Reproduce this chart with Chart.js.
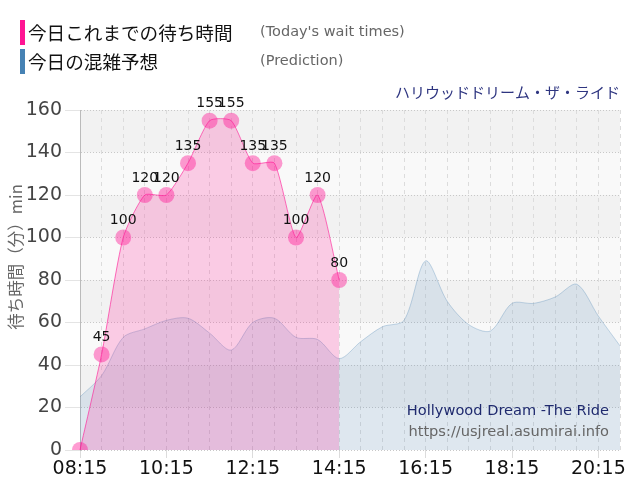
<!DOCTYPE html>
<html>
<head>
<meta charset="utf-8">
<script src="https://cdn.jsdelivr.net/npm/chart.js@4/dist/chart.umd.min.js"></script>
<style>
  html, body { margin: 0; padding: 0; background: #fff; }
  #wrap { width: 640px; height: 500px; }
</style>
</head>
<body>
<div id="wrap"><canvas id="waitChart" width="640" height="500"></canvas></div>
<script>
// 30 minute slots, 08:15 - 20:45
const timeLabels = [
  "08:15", "08:45", "09:15", "09:45", "10:15", "10:45", "11:15", "11:45",
  "12:15", "12:45", "13:15", "13:45", "14:15", "14:45", "15:15", "15:45",
  "16:15", "16:45", "17:15", "17:45", "18:15", "18:45", "19:15", "19:45",
  "20:15", "20:45"
]

// Today's wait times (posted so far)
const todayWait = [0, 45, 100, 120, 120, 135, 155, 155, 135, 135, 100, 120, 80,
  null, null, null, null, null, null, null, null, null, null, null, null, null]

// Prediction
const predicted = [25, 35, 53, 57, 61, 62, 55, 47, 60, 62, 53, 52, 43,
  51, 58, 61, 89, 70, 59, 56, 69, 69, 72, 78, 63, 49]

const yTicks = [0, 20, 40, 60, 80, 100, 120, 140, 160]

const JP_FONT = "'Noto Sans CJK JP', 'Noto Sans', sans-serif"
const EN_FONT = "'DejaVu Sans', Verdana, sans-serif"

Chart.defaults.font.family = EN_FONT

// alternating grey bands behind the plot
const bandPlugin = {
  id: "bands",
  beforeDraw(chart) {
    const { ctx, chartArea, scales } = chart
    const y = scales.y
    ctx.save()
    for (let i = 0; i < yTicks.length - 1; i++) {
      const top = y.getPixelForValue(yTicks[i + 1])
      const bottom = y.getPixelForValue(yTicks[i])
      ctx.fillStyle = i % 2 === 1 ? "#f2f2f2" : "#f9f9f9"
      ctx.fillRect(chartArea.left, top, chartArea.right - chartArea.left, bottom - top)
    }
    ctx.restore()
  }
}

// value labels above today's points (no label for the opening 0)
const valueLabelPlugin = {
  id: "valueLabels",
  afterDatasetsDraw(chart) {
    const { ctx } = chart
    const meta = chart.getDatasetMeta(0)
    ctx.save()
    ctx.font = "14px " + EN_FONT
    ctx.fillStyle = "#111"
    ctx.textAlign = "center"
    ctx.textBaseline = "middle"
    meta.data.forEach((pt, i) => {
      const v = todayWait[i]
      if (!v) return
      ctx.fillText(String(v), pt.x, pt.y - 17)
    })
    ctx.restore()
  }
}

// legend, axis title, ride name and credit texts
const textPlugin = {
  id: "texts",
  afterDraw(chart) {
    const { ctx } = chart
    ctx.save()
    ctx.textBaseline = "middle"

    ctx.fillStyle = "#ff1493"
    ctx.fillRect(20, 20, 5, 25)
    ctx.fillStyle = "#4682b4"
    ctx.fillRect(20, 49, 5, 25)

    ctx.textAlign = "left"
    ctx.fillStyle = "#111"
    ctx.font = "18.6px " + JP_FONT
    ctx.fillText("今日これまでの待ち時間", 28, 33)
    ctx.fillText("今日の混雑予想", 28, 62)

    ctx.fillStyle = "#666"
    ctx.font = "14.5px " + EN_FONT
    ctx.fillText("(Today's wait times)", 260, 32)
    ctx.fillText("(Prediction)", 260, 61)

    ctx.textAlign = "right"
    ctx.fillStyle = "#2e3580"
    ctx.font = "15px " + JP_FONT
    ctx.fillText("ハリウッドドリーム・ザ・ライド", 620, 92)

    ctx.fillStyle = "#1f2a6e"
    ctx.font = "14.6px " + EN_FONT
    ctx.fillText("Hollywood Dream -The Ride", 609, 411)
    ctx.fillStyle = "#666"
    ctx.fillText("https://usjreal.asumirai.info", 609, 432)

    // y axis title
    ctx.translate(16, 257)
    ctx.rotate(-Math.PI / 2)
    ctx.textAlign = "center"
    ctx.fillStyle = "#666"
    ctx.font = "16.5px " + JP_FONT
    ctx.fillText("待ち時間（分）min", 0, 0)
    ctx.restore()
  }
}

const ctx = document.getElementById("waitChart")
new Chart(ctx, {
  type: "line",
  data: {
    labels: timeLabels,
    datasets: [
      {
        label: "今日これまでの待ち時間",
        data: todayWait,
        borderColor: "rgba(255,20,147,0.6)",
        borderWidth: 1,
        backgroundColor: "rgba(255,20,147,0.2)",
        fill: "origin",
        tension: 0.2,
        pointRadius: 8,
        pointHoverRadius: 8,
        pointBorderWidth: 0,
        pointBackgroundColor: "rgba(255,20,147,0.42)",
        spanGaps: false
      },
      {
        label: "今日の混雑予想",
        data: predicted,
        borderColor: "rgba(70,130,180,0.3)",
        borderWidth: 1,
        backgroundColor: "rgba(70,130,180,0.15)",
        fill: "origin",
        tension: 0.3,
        pointRadius: 0
      }
    ]
  },
  options: {
    responsive: false,
    animation: false,
    events: [],
    layout: { padding: { top: 110, right: 20, left: 0, bottom: 0 } },
    plugins: {
      legend: { display: false },
      tooltip: { enabled: false }
    },
    scales: {
      x: {
        afterFit(scale) { scale.height = 50 },
        grid: {
          color: "#dcdcdc",
          tickLength: 8,
          tickColor: (c) => (c.index % 4 === 0 ? "#dcdcdc" : "rgba(0,0,0,0)")
        },
        border: { display: false, dash: [4, 4] },
        ticks: {
          autoSkip: false,
          maxRotation: 0,
          padding: 0,
          color: "#111",
          font: { size: 19 },
          callback: (v, i) => (i % 4 === 0 ? timeLabels[i] : "")
        }
      },
      y: {
        min: 0,
        max: 160,
        afterFit(scale) { scale.width = 80 },
        afterBuildTicks(scale) { scale.ticks = yTicks.map((v) => ({ value: v })) },
        grid: { color: "#c8c8c8", tickLength: 15, tickColor: "#e4e4e4" },
        border: { display: true, color: "#bbb", dash: [1, 2] },
        ticks: { color: "#444", padding: 3, font: { size: 19 } }
      }
    }
  },
  plugins: [bandPlugin, valueLabelPlugin, textPlugin]
})
</script>
</body>
</html>
